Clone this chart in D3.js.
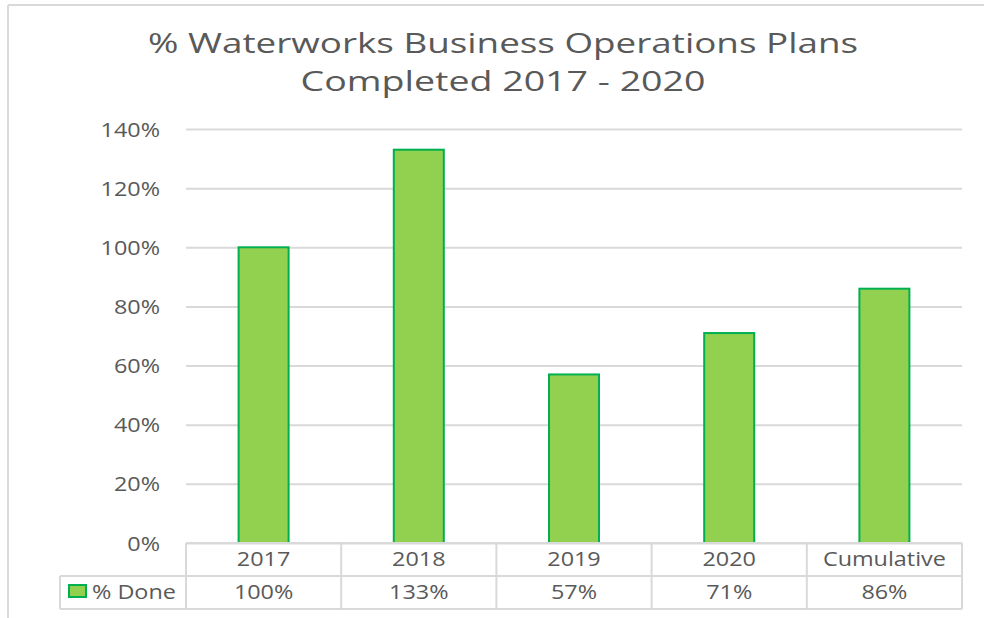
<!DOCTYPE html>
<html>
<head>
<meta charset="utf-8">
<script src="https://cdn.jsdelivr.net/npm/d3@7"></script>
<style>
  body { margin: 0; background: #fff; }
  svg { font-family: "Open Sans", "Noto Sans", sans-serif; }
</style>
</head>
<body>
<svg id="chart"></svg>
<script>
// chart data
var categories = ['2017', '2018', '2019', '2020', 'Cumulative'];
var pctDone = [100, 133, 57, 71, 86];
var tickValues = [0, 20, 40, 60, 80, 100, 120, 140];
var seriesName = '% Done';
var titleLines = ['% Waterworks Business Operations Plans', 'Completed 2017 - 2020'];

var svgWidth = 984;
var svgHeight = 618;
var plotLeft = 186, plotRight = 962, plotTop = 129, plotBottom = 543;
var rowH = 33;
var textColor = '#595959';
var lineColor = '#d9d9d9';
var sx = 1.2; // the original text is a bit wider than Open Sans

var svg = d3.select('#chart')
    .attr('width', svgWidth)
    .attr('height', svgHeight);

// place a text at (x, y) and widen it horizontally
function putText(sel, x, y) {
    sel.attr('x', 0).attr('y', 0)
        .attr('transform', function(d, i) {
            var px = typeof x === 'function' ? x(d, i) : x;
            var py = typeof y === 'function' ? y(d, i) : y;
            return 'translate(' + px + ',' + py + ') scale(' + sx + ',1)';
        });
}

// chart area border (top and left visible)
svg.append('line').attr('x1', 8).attr('x2', svgWidth).attr('y1', 5).attr('y2', 5)
    .attr('stroke', lineColor).attr('stroke-width', 2);
svg.append('line').attr('x1', 8).attr('x2', 8).attr('y1', 5).attr('y2', svgHeight)
    .attr('stroke', lineColor).attr('stroke-width', 2);

// title
var titleWidths = [710, 405];
svg.selectAll('.title').data(titleLines)
    .enter()
    .append('text')
    .attr('class', 'title')
    .attr('x', 503)
    .attr('y', function(d, i) { return 53 + i * 38; })
    .attr('text-anchor', 'middle')
    .attr('font-size', '28px')
    .attr('fill', textColor)
    .attr('textLength', function(d, i) { return titleWidths[i]; })
    .attr('lengthAdjust', 'spacingAndGlyphs')
    .text(function(d) { return d; });

var x = d3.scaleBand().domain(categories).range([plotLeft, plotRight]).paddingInner(0).paddingOuter(0);
var y = d3.scaleLinear().domain([0, 140]).range([plotBottom, plotTop]);

// gridlines + tick labels
var yAxis = d3.axisLeft(y)
    .tickValues(tickValues)
    .tickSize(-(plotRight - plotLeft))
    .tickPadding(26)
    .tickFormat(function(d) { return d + '%'; });

var gy = svg.append('g').attr('transform', 'translate(' + plotLeft + ',0)').call(yAxis);
gy.select('.domain').remove();
gy.selectAll('.tick line').attr('stroke', lineColor).attr('stroke-width', 2);
gy.selectAll('.tick text')
    .attr('font-size', '19.5px')
    .attr('fill', textColor)
    .attr('font-family', '"Open Sans", sans-serif')
    .attr('dy', '0.36em')
    .call(putText, -26, 0);

// bars
var barWidth = 50;
svg.selectAll('rect.bar').data(pctDone)
    .enter()
    .append('rect')
    .attr('class', 'bar')
    .attr('x', function(d, i) { return x(categories[i]) + x.bandwidth() / 2 - barWidth / 2; })
    .attr('y', function(d) { return y(d); })
    .attr('width', barWidth)
    .attr('height', function(d) { return plotBottom - y(d); })
    .attr('fill', '#92d050')
    .attr('stroke', '#00b050')
    .attr('stroke-width', 2);

// data table
var tbl = svg.append('g');
var legendLeft = 60;

tbl.append('line').attr('x1', plotLeft).attr('x2', plotRight).attr('y1', plotBottom).attr('y2', plotBottom)
    .attr('stroke', lineColor).attr('stroke-width', 2);
tbl.append('line').attr('x1', legendLeft).attr('x2', plotRight).attr('y1', plotBottom + rowH).attr('y2', plotBottom + rowH)
    .attr('stroke', lineColor).attr('stroke-width', 2);
tbl.append('line').attr('x1', legendLeft).attr('x2', plotRight).attr('y1', plotBottom + 2 * rowH).attr('y2', plotBottom + 2 * rowH)
    .attr('stroke', lineColor).attr('stroke-width', 2);

var colEdges = categories.map(function(c) { return x(c); }).concat([plotRight]);
tbl.selectAll('line.v').data(colEdges)
    .enter()
    .append('line')
    .attr('class', 'v')
    .attr('x1', function(d) { return d; })
    .attr('x2', function(d) { return d; })
    .attr('y1', plotBottom)
    .attr('y2', plotBottom + 2 * rowH)
    .attr('stroke', lineColor).attr('stroke-width', 2);
tbl.append('line').attr('x1', legendLeft).attr('x2', legendLeft)
    .attr('y1', plotBottom + rowH).attr('y2', plotBottom + 2 * rowH)
    .attr('stroke', lineColor).attr('stroke-width', 2);

// category row
tbl.selectAll('text.cat').data(categories)
    .enter()
    .append('text')
    .attr('class', 'cat')
    .attr('text-anchor', 'middle')
    .attr('font-size', '19.5px')
    .attr('fill', textColor)
    .text(function(d) { return d; })
    .call(putText, function(d) { return x(d) + x.bandwidth() / 2; }, plotBottom + 23);

// value row
tbl.selectAll('text.val').data(pctDone)
    .enter()
    .append('text')
    .attr('class', 'val')
    .attr('text-anchor', 'middle')
    .attr('font-size', '19.5px')
    .attr('fill', textColor)
    .text(function(d) { return d + '%'; })
    .call(putText, function(d, i) { return x(categories[i]) + x.bandwidth() / 2; }, plotBottom + rowH + 23);

// legend key
tbl.append('rect')
    .attr('x', 69).attr('y', plotBottom + rowH + 9)
    .attr('width', 17).attr('height', 12)
    .attr('fill', '#92d050').attr('stroke', '#00b050').attr('stroke-width', 2);
tbl.append('text')
    .attr('font-size', '19.5px')
    .attr('fill', textColor)
    .text(seriesName)
    .call(putText, 92, plotBottom + rowH + 23);
</script>
</body>
</html>
